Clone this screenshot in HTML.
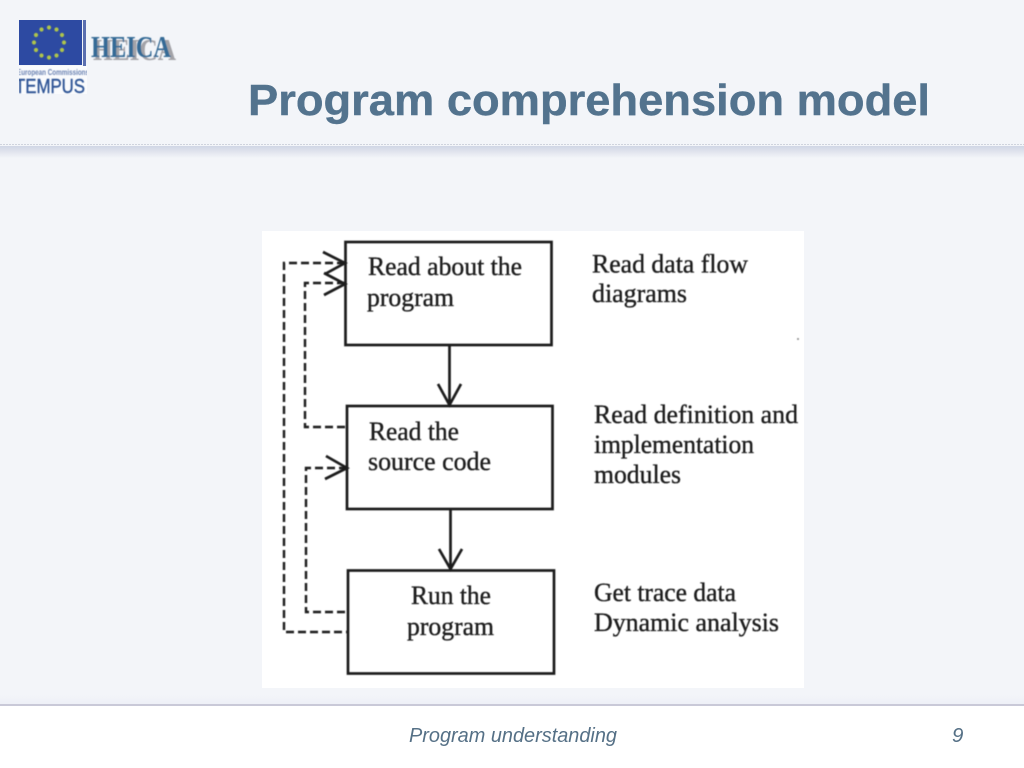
<!DOCTYPE html>
<html>
<head>
<meta charset="utf-8">
<style>
html,body{margin:0;padding:0;background:#fff}
#p{position:relative;width:1024px;height:768px;overflow:hidden;background:#fff;font-family:"Liberation Sans",sans-serif}
svg{position:absolute;left:0;top:0}
</style>
</head>
<body>
<div id="p">
<svg width="1024" height="768" viewBox="0 0 1024 768" xmlns="http://www.w3.org/2000/svg">
<defs>
<linearGradient id="band" x1="0" y1="0" x2="0" y2="1">
<stop offset="0" stop-color="#d0d6e5"/><stop offset="0.35" stop-color="#dce0eb"/><stop offset="1" stop-color="#f3f5f9"/>
</linearGradient>
<linearGradient id="foot" x1="0" y1="0" x2="0" y2="1">
<stop offset="0" stop-color="#f3f5f9"/><stop offset="1" stop-color="#eef0f7"/>
</linearGradient>
<filter id="soft" x="-5%" y="-5%" width="110%" height="110%"><feGaussianBlur stdDeviation="0.6"/></filter>
<filter id="soft2" x="-5%" y="-5%" width="110%" height="110%"><feGaussianBlur stdDeviation="0.4"/></filter>
<clipPath id="logoclip"><rect x="19" y="60" width="68" height="40"/></clipPath>
</defs>

<!-- background -->
<rect x="0" y="0" width="1024" height="705" fill="#f3f5f9"/>
<rect x="0" y="695" width="1024" height="9" fill="url(#foot)"/>
<rect x="0" y="704" width="1024" height="2" fill="#c9c9d8"/>
<rect x="0" y="706" width="1024" height="62" fill="#ffffff"/>

<!-- header rule -->
<line x1="0" y1="144.5" x2="1024" y2="144.5" stroke="#cfd3dd" stroke-width="1" stroke-dasharray="2 1"/>
<rect x="0" y="146" width="1024" height="12" fill="url(#band)"/>

<!-- logo -->
<rect x="19" y="20" width="63" height="45" fill="#2d4aa2"/>
<rect x="83" y="20" width="3" height="46" fill="#5b6fb0"/>
<g fill="#aec44c" filter="url(#soft2)">
<circle cx="49" cy="27.5" r="2.1"/><circle cx="56.5" cy="29.5" r="2.1"/><circle cx="62" cy="35" r="2.1"/>
<circle cx="64" cy="42.5" r="2.1"/><circle cx="62" cy="50" r="2.1"/><circle cx="56.5" cy="55.5" r="2.1"/>
<circle cx="49" cy="57.5" r="2.1"/><circle cx="41.5" cy="55.5" r="2.1"/><circle cx="36" cy="50" r="2.1"/>
<circle cx="34" cy="42.5" r="2.1"/><circle cx="36" cy="35" r="2.1"/><circle cx="41.5" cy="29.5" r="2.1"/>
</g>
<rect x="19" y="66" width="68" height="28" fill="#fafbfd"/>
<g clip-path="url(#logoclip)">
<g filter="url(#soft2)">
<text x="17" y="75" font-family="Liberation Sans" font-weight="bold" font-size="8" fill="#6a82b2" textLength="72" lengthAdjust="spacingAndGlyphs">European Commissions</text>
<text x="15" y="93" font-family="Liberation Sans" font-size="20" fill="#2f5596" stroke="#2f5596" stroke-width="0.4" textLength="70" lengthAdjust="spacingAndGlyphs">TEMPUS</text>
</g>
</g>
<g filter="url(#soft2)">
<text x="93" y="60" font-family="Liberation Serif" font-weight="bold" font-size="31" fill="#a3a3a8" textLength="83" lengthAdjust="spacingAndGlyphs">HEICA</text>
<text x="91" y="57" font-family="Liberation Serif" font-weight="bold" font-size="31" fill="#356b96" textLength="80" lengthAdjust="spacingAndGlyphs">HEICA</text>
</g>

<!-- title -->
<text x="248" y="115" font-family="Liberation Sans" font-weight="bold" font-size="44" fill="#53738e" stroke="#53738e" stroke-width="0.4" textLength="682" lengthAdjust="spacingAndGlyphs">Program comprehension model</text>

<!-- picture -->
<rect x="262" y="231" width="542" height="457" fill="#ffffff"/>
<g filter="url(#soft)">
<g fill="none" stroke="#1a1a1a" stroke-width="2.7">
<rect x="345.5" y="242" width="206" height="103"/>
<rect x="347" y="406" width="205.5" height="103"/>
<rect x="348" y="570.5" width="206" height="103"/>
<!-- solid arrows -->
<path d="M449.5 345V405M438 384L449.5 405L461 384"/>
<path d="M450.5 509V569M439 549L450.5 569L462 549"/>
<!-- arrowheads on dashed -->
<path d="M323 252L345 263L325 274"/>
<path d="M324 273L345 284L324 295"/>
<path d="M326 456L347 468L325 479"/>
</g>
<g fill="none" stroke="#1a1a1a" stroke-width="2.4" stroke-dasharray="8 4">
<path d="M345 263H284V632H348"/>
<path d="M345 283H305V427H347"/>
<path d="M347 468H306V612H348"/>
</g>
<g font-family="Liberation Serif" font-size="26.5" fill="#1a1a1a" stroke="#1a1a1a" stroke-width="0.35">
<text x="368" y="275" textLength="154" lengthAdjust="spacingAndGlyphs">Read about the</text>
<text x="367" y="306" textLength="87" lengthAdjust="spacingAndGlyphs">program</text>
<text x="369" y="440" textLength="90" lengthAdjust="spacingAndGlyphs">Read the</text>
<text x="368" y="470" textLength="123" lengthAdjust="spacingAndGlyphs">source code</text>
<text x="411" y="604" textLength="80" lengthAdjust="spacingAndGlyphs">Run the</text>
<text x="407" y="635" textLength="87" lengthAdjust="spacingAndGlyphs">program</text>
<text x="592" y="272.5" textLength="156" lengthAdjust="spacingAndGlyphs">Read data flow</text>
<text x="592" y="302" textLength="95" lengthAdjust="spacingAndGlyphs">diagrams</text>
<text x="594" y="423" textLength="204" lengthAdjust="spacingAndGlyphs">Read definition and</text>
<text x="594" y="453" textLength="160" lengthAdjust="spacingAndGlyphs">implementation</text>
<text x="594" y="483" textLength="87" lengthAdjust="spacingAndGlyphs">modules</text>
<text x="594" y="601" textLength="142" lengthAdjust="spacingAndGlyphs">Get trace data</text>
<text x="594" y="631" textLength="185" lengthAdjust="spacingAndGlyphs">Dynamic analysis</text>
</g>
<circle cx="798" cy="339" r="1" fill="#888"/>
</g>

<!-- footer -->
<text x="409" y="742" font-family="Liberation Sans" font-style="italic" font-size="20.5" fill="#557086" textLength="208" lengthAdjust="spacingAndGlyphs">Program understanding</text>
<text x="952" y="742" font-family="Liberation Sans" font-style="italic" font-size="20.5" fill="#557086">9</text>
</svg>
</div>
</body>
</html>
